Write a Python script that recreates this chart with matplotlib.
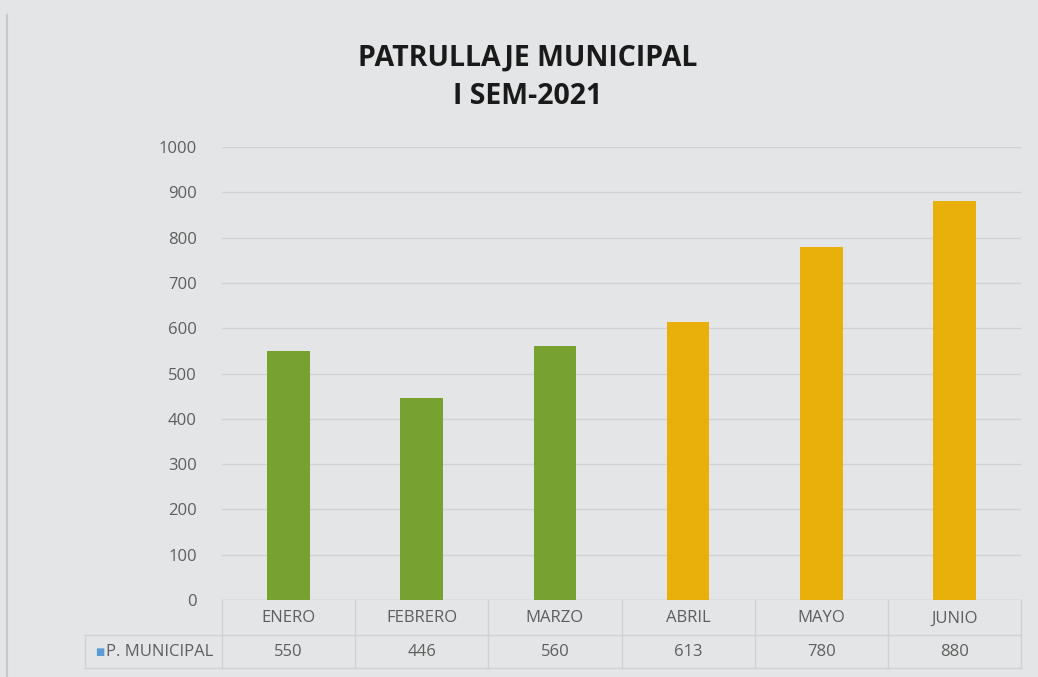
import matplotlib.pyplot as plt
from matplotlib.lines import Line2D

# monthly municipal patrol counts, first half of 2021
months = ["ENERO", "FEBRERO", "MARZO", "ABRIL", "MAYO", "JUNIO"]
patrols = [550, 446, 560, 613, 780, 880]
bar_colors = ["#78a22f", "#78a22f", "#78a22f", "#e9b00c", "#e9b00c", "#e9b00c"]
series_name = "P. MUNICIPAL"
title_lines = ["PATRULLAJE MUNICIPAL", "I SEM-2021"]

W, H = 1038, 677
bg = "#e3e5e6"
grid_col = "#cfd1d3"
text_col = "#5e5e5e"
font = ["Open Sans", "DejaVu Sans"]

fig = plt.figure(figsize=(W / 100, H / 100), dpi=100, facecolor=bg)

# plot area in pixel terms
x0, x1 = 222, 1021
y_zero, y_top = 600, 147
ax = fig.add_axes([x0 / W, 1 - y_zero / H, (x1 - x0) / W, (y_zero - y_top) / H])
ax.set_facecolor(bg)

pos = range(len(months))
ax.bar(pos, patrols, width=0.32, color=bar_colors, zorder=3)
ax.set_xlim(-0.5, len(months) - 0.5)
ax.set_ylim(0, 1000)
ax.set_yticks(range(0, 1001, 100))
ax.set_yticklabels([str(v) for v in range(0, 1001, 100)], color=text_col,
                   fontsize=12, family=font)
ax.tick_params(axis="y", length=0, pad=18)
ax.tick_params(axis="x", length=0, labelbottom=False)
ax.grid(axis="y", color=grid_col, linewidth=1.0, zorder=0)
ax.axhline(0, color=grid_col, linewidth=1.0, zorder=1)
for s in ax.spines.values():
    s.set_visible(False)

# data table under the chart
def fx(px):
    return px / W

def fy(py):
    return 1 - py / H

row1, row2, row3 = 600, 635, 668
tbl_left = 85
cell_w = (x1 - x0) / len(months)
line_kw = dict(color=grid_col, linewidth=1.0, transform=fig.transFigure)
fig.add_artist(Line2D([fx(tbl_left), fx(x1)], [fy(row2), fy(row2)], **line_kw))
fig.add_artist(Line2D([fx(tbl_left), fx(x1)], [fy(row3), fy(row3)], **line_kw))
fig.add_artist(Line2D([fx(tbl_left), fx(tbl_left)], [fy(row2), fy(row3)], **line_kw))
for i in range(len(months) + 1):
    xp = x0 + i * cell_w
    fig.add_artist(Line2D([fx(xp), fx(xp)], [fy(row1), fy(row3)], **line_kw))

for i, (m, v) in enumerate(zip(months, patrols)):
    cx = x0 + (i + 0.5) * cell_w
    fig.text(fx(cx), fy((row1 + row2) / 2 + 1), m, ha="center", va="center",
             fontsize=12, color=text_col, family=font)
    fig.text(fx(cx), fy((row2 + row3) / 2 + 1), str(v), ha="center", va="center",
             fontsize=12, color=text_col, family=font)

fig.text(fx(95), fy((row2 + row3) / 2 + 1), "\u25a0", ha="left", va="center",
         fontsize=7, color="#5b9bd5", family="DejaVu Sans")
fig.text(fx(106), fy((row2 + row3) / 2 + 1), series_name, ha="left", va="center",
         fontsize=12, color=text_col, family=font)

# title
fig.text(fx(528), fy(58), title_lines[0], ha="center", va="center",
         fontsize=20.5, fontweight="bold", color="#1a1a1a", family=font)
fig.text(fx(528), fy(97), title_lines[1], ha="center", va="center",
         fontsize=20.5, fontweight="bold", color="#1a1a1a", family=font)

# faint edge of the slide on the left
fig.add_artist(Line2D([fx(7), fx(7)], [fy(15), fy(677)], color="#c8cacc",
                      linewidth=1.5, transform=fig.transFigure))

fig.savefig("out.png", dpi=100, facecolor=bg)
